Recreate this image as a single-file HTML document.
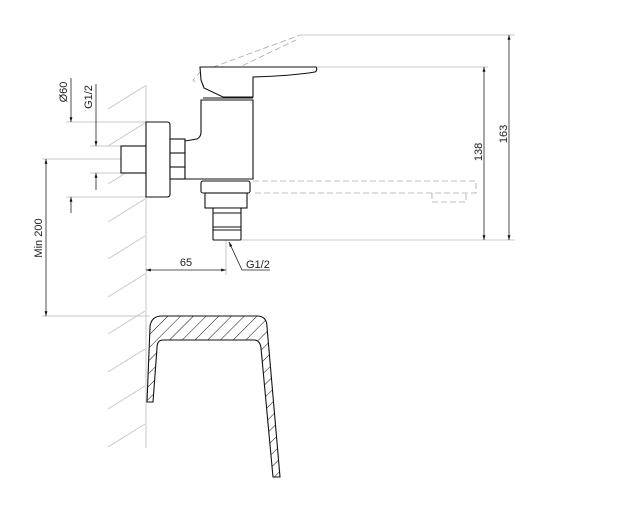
<!DOCTYPE html>
<html><head><style>
html,body{margin:0;padding:0;background:#fff;width:635px;height:510px;overflow:hidden}
text{font-family:"Liberation Sans",sans-serif;font-size:11px;fill:#222}
</style></head><body>
<svg width="635" height="510" viewBox="0 0 635 510" xmlns="http://www.w3.org/2000/svg">
<defs>
<pattern id="h" patternUnits="userSpaceOnUse" width="9" height="9" patternTransform="rotate(45)">
<line x1="0" y1="0" x2="0" y2="9" stroke="#111" stroke-width="1"/>
</pattern>
<marker id="a" viewBox="0 0 10 10" refX="10" refY="5" markerWidth="8" markerHeight="6" orient="auto-start-reverse">
<path d="M0,2 L10,5 L0,8 z" fill="#111"/>
</marker>
</defs>
<!-- wall -->
<g stroke="#c8c8c8" stroke-width="1" fill="none">
<line x1="146" y1="85" x2="146" y2="448"/>
<line x1="108" y1="109" x2="145" y2="86"/>
<line x1="108" y1="146" x2="145" y2="123"/>
<line x1="108" y1="184" x2="145" y2="161"/>
<line x1="108" y1="222" x2="145" y2="199"/>
<line x1="108" y1="259" x2="145" y2="236"/>
<line x1="108" y1="297" x2="145" y2="274"/>
<line x1="108" y1="334" x2="145" y2="311"/>
<line x1="108" y1="372" x2="145" y2="349"/>
<line x1="108" y1="409" x2="145" y2="386"/>
<line x1="108" y1="447" x2="145" y2="424"/>
<!-- ext lines -->
<line x1="66" y1="122" x2="146" y2="122"/>
<line x1="66" y1="197" x2="146" y2="197"/>
<line x1="90" y1="146" x2="121" y2="146"/>
<line x1="90" y1="173" x2="121" y2="173"/>
<line x1="42" y1="159" x2="121" y2="159"/>
<line x1="42" y1="316" x2="150" y2="316"/>
<line x1="300" y1="35" x2="515" y2="35"/>
<line x1="316" y1="67" x2="488" y2="67"/>
<line x1="241" y1="240" x2="515" y2="240"/>
<line x1="226" y1="240" x2="226" y2="275"/>
</g>
<!-- dims -->
<g stroke="#222" stroke-width="0.8" fill="none">
<line x1="71" y1="78" x2="71" y2="122" marker-end="url(#a)"/>
<line x1="71" y1="213" x2="71" y2="197" marker-end="url(#a)"/>
<line x1="96" y1="84" x2="96" y2="146" marker-end="url(#a)"/>
<line x1="96" y1="190" x2="96" y2="173" marker-end="url(#a)"/>
<line x1="46" y1="159" x2="46" y2="316" marker-start="url(#a)" marker-end="url(#a)"/>
<line x1="146" y1="270" x2="226" y2="270" marker-start="url(#a)" marker-end="url(#a)"/>
<line x1="484" y1="67" x2="484" y2="240" marker-start="url(#a)" marker-end="url(#a)"/>
<line x1="509" y1="35" x2="509" y2="240" marker-start="url(#a)" marker-end="url(#a)"/>
<polyline points="229,242 242,270 270,270" marker-start="url(#a)"/>
</g>
<text transform="translate(67,92) rotate(-90)" text-anchor="middle">Ø60</text>
<text transform="translate(92,97) rotate(-90)" text-anchor="middle">G1/2</text>
<text transform="translate(42,238) rotate(-90)" text-anchor="middle">Min 200</text>
<text x="186" y="266" text-anchor="middle">65</text>
<text x="246" y="268">G1/2</text>
<text transform="translate(482,152) rotate(-90)" text-anchor="middle">138</text>
<text transform="translate(507,134) rotate(-90)" text-anchor="middle">163</text>
<!-- dashed ghost -->
<g stroke="#aaa" stroke-width="0.8" fill="none" stroke-dasharray="6,3">
<polyline points="195,82 193,80 200,72 300,35"/>
<line x1="202" y1="85" x2="296" y2="40"/>
<polyline points="253,181 476,181 476,193 253,193"/>
<polyline points="432,193 432,202 466,202 466,193"/>
</g>
<!-- faucet -->
<g stroke="#111" stroke-width="1.1" fill="#fff">
<rect x="121" y="146" width="25" height="27"/>
<path d="M146,122 H167 Q170,122 170,125 V194 Q170,197 167,197 H146 Z"/>
<rect x="170" y="139" width="15" height="40"/>
<line x1="170" y1="153" x2="185" y2="153"/>
<line x1="170" y1="167" x2="185" y2="167"/>
<path d="M185,141 L197,139 Q201,137 201,132 V100 H253 V179 H185 Z"/>
<path d="M200,67 H316 Q318,70 315,72 Q290,76 253,77 V97 H223 L204,88 L201,80 Z"/>
<line x1="203" y1="98" x2="253" y2="98"/>
<rect x="201" y="181" width="49" height="12" rx="2"/>
<rect x="205" y="193" width="42" height="15"/>
<rect x="213" y="208" width="28" height="32" rx="1"/>
<line x1="213" y1="213" x2="241" y2="213"/>
<line x1="213" y1="227" x2="241" y2="227"/>
<line x1="213" y1="230" x2="241" y2="230"/>
</g>
<!-- basin -->
<path d="M147,402 L150,327 Q151,316 162,316 H257 Q267,316 267,327 L280,477 H273 L261,348 Q260,340 254,340 H163 Q157,340 157,348 L153,402 Z" fill="url(#h)" stroke="#111" stroke-width="1.1"/>
</svg>
</body></html>
